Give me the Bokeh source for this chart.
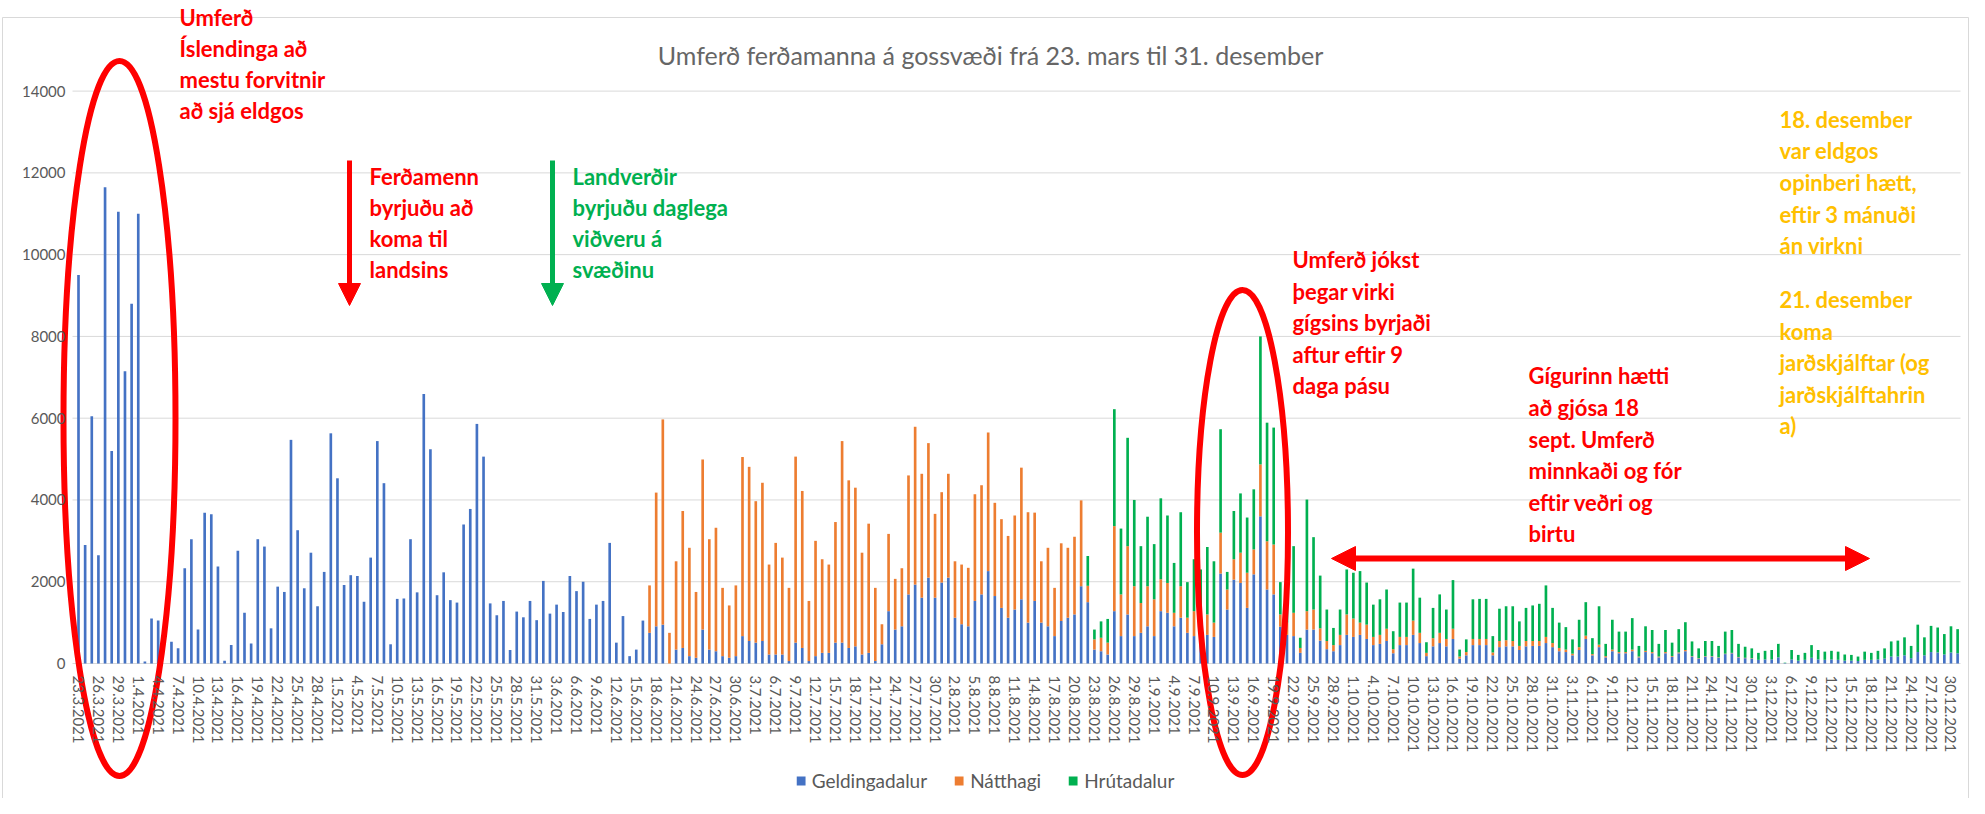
import pandas as pd
from bokeh.plotting import figure
from bokeh.models import ColumnDataSource, Range1d, LinearAxis, FixedTicker, Arrow, NormalHead
from bokeh.core.properties import value
from bokeh.embed import file_html
from bokeh.resources import INLINE

# ---------------- data ----------------
days = [f"{d.day}.{d.month}.{d.year}" for d in pd.date_range("2021-03-23", "2021-12-31", freq="D")]
series_names = ["Geldingadalur", "Nátthagi", "Hrútadalur"]
series_colors = ["#4472C4", "#ED7D31", "#00B050"]

geldingadalur = [
    9500, 2900, 6050, 2650, 11650, 5200, 11050, 7150, 8800, 11000,
    50, 1100, 1050, 0, 530, 370, 2330, 3040, 830, 3690,
    3650, 2370, 70, 450, 2760, 1240, 490, 3040, 2860, 860,
    1880, 1750, 5470, 3260, 1840, 2710, 1400, 2240, 5630, 4530,
    1920, 2160, 2140, 1510, 2590, 5440, 4410, 470, 1580, 1590,
    3040, 1740, 6590, 5240, 1670, 2230, 1550, 1490, 3400, 3780,
    5860, 5060, 1470, 1180, 1530, 330, 1270, 1130, 1530, 1060,
    2020, 1220, 1440, 1260, 2140, 1770, 2000, 1090, 1440, 1530,
    2950, 510, 1160, 180, 340, 1050,
    750, 910, 950, 0, 340, 380, 180, 140, 830, 340,
    300, 180, 140, 180, 670, 550, 510, 550, 220, 220,
    220, 60, 510, 380, 60, 180, 260, 260, 510, 510,
    380, 420, 220, 260, 60, 470, 1280, 830, 910, 1690,
    1930, 1610, 2100, 1610, 1980, 2100, 1120, 960, 910, 1530,
    1690, 2260, 1650, 1360, 1120, 1320, 1570, 1000, 1530, 1000,
    910, 670, 1040, 1120, 1200, 1890, 1500,
    340, 300, 220, 1280, 670, 1200, 670, 750, 910, 670,
    1280, 1240, 910, 1120, 750, 670, 700, 700, 650, 2200,
    1320, 2050, 1970, 1360, 2180, 3600, 1810, 1690, 900, 700,
    670, 260, 830, 830, 560, 350, 300, 450, 700, 650,
    700, 600, 450, 480, 550, 250, 450, 450, 700, 500,
    180, 420, 500, 420, 600, 120, 200, 450, 450, 450,
    200, 400, 420,
    420, 330, 420, 430, 430, 500, 400, 300, 280, 200,
    330, 600, 200, 400, 150, 300, 250, 250, 300, 150,
    280, 250, 150, 250, 160, 250, 300, 170, 120, 170,
    170, 140, 230, 250, 150, 130, 120, 90, 100, 100,
    150, 10, 100, 70, 90, 140, 100, 90, 100, 90,
    70, 70, 60, 90, 90, 100, 120, 170, 170, 200,
    130, 280, 200, 280, 270, 220, 270, 250,
]

natthagi = [0] * 86 + [
    1160, 3270, 5020, 750, 2160, 3350, 2650, 1610, 4160, 2700,
    3020, 1670, 1280, 1730, 4380, 4260, 3460, 3870, 2200, 2730,
    2370, 1790, 4550, 3840, 1470, 2820, 2290, 2160, 2950, 4930,
    4100, 3880, 2490, 3160, 1790, 490, 1890, 1240, 1420, 2910,
    3860, 3030, 3290, 2050, 2210, 2540, 1380, 1460, 1430, 2610,
    2670, 3390, 2280, 2170, 2000, 2300, 3220, 2700, 2160, 1500,
    1920, 1180, 1900, 1710, 1900, 2100, 400,
    250, 330, 290, 2080, 1020, 1670, 1220, 730, 980, 900,
    780, 730, 330, 770, 370, 610, 550, 500, 350, 1000,
    490, 500, 740, 860, 610, 1270, 1180, 1220, 300, 300,
    570, 120, 450, 490, 300, 200, 150, 250, 500, 450,
    300, 350, 200, 220, 300, 100, 200, 200, 350, 250,
    80, 200, 250, 180, 250, 50, 80, 150, 150, 150,
    70, 150, 150,
    130, 100, 130, 120, 120, 150, 100, 80, 60, 40,
    70, 80, 30, 60, 30, 40, 30, 30, 40, 20,
    30, 30, 20, 30, 20, 20, 30, 10, 10, 10,
    10, 10, 10, 10, 10, 10, 10, 0, 0, 0,
] + [0] * 28

hrutadalur = [0] * 152 + [
    730,
    240, 400, 580, 2860, 1610, 2650, 2110, 1390, 1700, 1350,
    1980, 1650, 1220, 1810, 870, 1270, 1050, 1650, 1500, 2530,
    430, 1180, 1450, 1350, 1470, 3130, 2900, 2860, 790, 800,
    1630, 250, 2730, 1770, 1290, 770, 420, 620, 1100, 1120,
    1260, 1030, 790, 870, 960, 440, 840, 840, 1270, 860,
    260, 740, 940, 720, 1190, 170, 310, 970, 980, 980,
    400, 790, 830,
    850, 600, 810, 870, 910, 1260, 860, 620, 550, 350,
    670, 820, 390, 940, 300, 730, 500, 500, 770, 260,
    600, 540, 310, 540, 330, 570, 680, 360, 240, 370,
    370, 280, 540, 560, 320, 270, 240, 170, 210, 230,
    330, 10, 230, 140, 170, 310, 230, 200, 210, 200,
    150, 140, 110, 200, 170, 210, 250, 370, 390, 440,
    300, 670, 440, 640, 610, 500, 640, 590,
]

y_ticks = [0, 2000, 4000, 6000, 8000, 10000, 12000, 14000]
tick_idx = list(range(0, len(days), 3))
tick_labels = {i: days[i] for i in tick_idx}

title_text = "Umferð ferðamanna á gossvæði frá 23. mars til 31. desember"

# ---------------- layout helpers (page px -> data) ----------------
W, H = 1969, 798
X0_PX, DX_PX = 86.0, 6.64       # page x of day 0, px per day
Y0_PX, DY_PX = 671.0, 0.040886  # page y of value 0, px per unit


def px_x(px):
    return (px - X0_PX) / DX_PX


def px_y(py):
    return (Y0_PX - py) / DY_PX


p = figure(width=W, height=H, output_backend="svg", toolbar_location=None,
           x_range=Range1d(px_x(8), px_x(8 + W)), y_range=Range1d(px_y(8 + H), px_y(8)),
           x_axis_location=None, y_axis_location=None, min_border=0,
           min_border_left=0, min_border_right=0, min_border_top=0, min_border_bottom=0,
           outline_line_color=None, background_fill_color="white", border_fill_color="white")
p.xgrid.visible = False
p.ygrid.visible = False

GRAY = "#595959"
GRID = "#d9d9d9"

# chart border (Excel chart area)
p.line([px_x(10), px_x(10), px_x(1976), px_x(1976)], [px_y(806), px_y(25), px_y(25), px_y(806)],
       line_color=GRID, line_width=1)

# horizontal gridlines
p.segment(x0=[px_x(80)] * len(y_ticks), x1=[px_x(1968)] * len(y_ticks), y0=y_ticks, y1=y_ticks,
          line_color=GRID, line_width=1)

# bars
src = ColumnDataSource(dict(x=list(range(len(days))), day=days,
                            geld=geldingadalur, natt=natthagi, hrut=hrutadalur))
p.vbar_stack(["geld", "natt", "hrut"], x="x", width=0.4, source=src,
             fill_color=series_colors, line_color=None, legend_label=series_names)

# axes
xaxis = LinearAxis(fixed_location=0, ticker=FixedTicker(ticks=tick_idx),
                   major_label_overrides=tick_labels, major_label_orientation="vertical",
                   axis_line_color=None, major_tick_line_color=None, minor_tick_line_color=None,
                   major_label_text_font="Lato", major_label_text_font_size="15px",
                   major_label_text_color=GRAY, major_label_standoff=6)
p.add_layout(xaxis, "below")
yaxis = LinearAxis(fixed_location=px_x(83), ticker=FixedTicker(ticks=y_ticks),
                   axis_line_color=None, major_tick_line_color=None, minor_tick_line_color=None,
                   major_label_text_font="Lato", major_label_text_font_size="15px",
                   major_label_text_color=GRAY, major_label_standoff=4)
p.add_layout(yaxis, "left")

# legend
lg = p.legend[0]
lg.location = "bottom_center"
lg.orientation = "horizontal"
lg.border_line_color = None
lg.background_fill_alpha = 0
lg.label_text_font = "Lato"
lg.label_text_font_size = "19px"
lg.label_text_color = GRAY
lg.glyph_width = 11
lg.glyph_height = 11
lg.spacing = 26
lg.label_standoff = 6
lg.padding = 0
lg.margin = 6

# title
p.text(x=[px_x(998)], y=[px_y(62)], text=[title_text], text_font=value("Lato"),
       text_font_size="25px", text_color="#666666", text_align="center", text_baseline="middle")

# ellipses
p.ellipse(x=[px_x(127), px_x(1250)], y=[px_y(426), px_y(540)],
          width=[112 / DX_PX, 91 / DX_PX], height=[715 / DY_PX, 485 / DY_PX],
          fill_color=None, line_color="#FF0000", line_width=6)

# arrows
RED = "#FF0000"
GREEN = "#00B050"
GOLD = "#FFC000"
p.add_layout(Arrow(end=NormalHead(size=22, fill_color=RED, line_color=RED),
                   x_start=px_x(357), y_start=px_y(168), x_end=px_x(357), y_end=px_y(313),
                   line_color=RED, line_width=5))
p.add_layout(Arrow(end=NormalHead(size=22, fill_color=GREEN, line_color=GREEN),
                   x_start=px_x(560), y_start=px_y(168), x_end=px_x(560), y_end=px_y(313),
                   line_color=GREEN, line_width=5))
p.add_layout(Arrow(start=NormalHead(size=24, fill_color=RED, line_color=RED),
                   end=NormalHead(size=24, fill_color=RED, line_color=RED),
                   x_start=px_x(1339), y_start=px_y(566), x_end=px_x(1877), y_end=px_y(566),
                   line_color=RED, line_width=6))

# notes
notes = [
    (["Umferð", "Íslendinga að", "mestu forvitnir", "að sjá eldgos"], 187, [25, 56, 87, 118], RED),
    (["Ferðamenn", "byrjuðu að", "koma til", "landsins"], 377, [184, 215, 246, 277], RED),
    (["Landverðir", "byrjuðu daglega", "viðveru á", "svæðinu"], 580, [184, 215, 246, 277], GREEN),
    (["Umferð jókst", "þegar virki", "gígsins byrjaði", "aftur eftir 9", "daga pásu"], 1300,
     [267, 299, 330, 362, 393], RED),
    (["Gígurinn hætti", "að gjósa 18", "sept. Umferð", "minnkaði og fór", "eftir veðri og", "birtu"], 1536,
     [383, 415, 447, 478, 510, 541], RED),
    (["18. desember", "var eldgos", "opinberi hætt,", "eftir 3 mánuði", "án virkni"], 1787,
     [127, 158, 190, 222, 253], GOLD),
    (["21. desember", "koma", "jarðskjálftar (og", "jarðskjálftahrin", "a)"], 1787,
     [307, 339, 370, 402, 433], GOLD),
]
for lines, left, centers, col in notes:
    p.text(x=[px_x(left)] * len(lines), y=[px_y(c) for c in centers], text=lines,
           text_font=value("Lato"), text_font_style="bold", text_font_size="22px",
           text_color=col, text_align="left", text_baseline="middle")

open("out.html", "w").write(file_html(p, INLINE))
